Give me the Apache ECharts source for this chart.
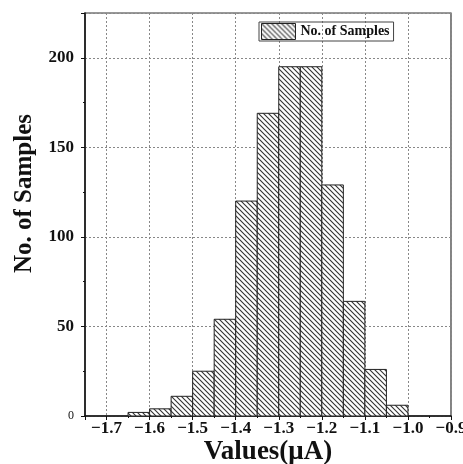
<!DOCTYPE html>
<html>
<head>
<meta charset="utf-8">
<script src="https://cdn.jsdelivr.net/npm/echarts@6/dist/echarts.min.js"></script>
<style>
html,body{margin:0;padding:0;background:#fff;}
#c{width:463px;height:464px;}
</style>
</head>
<body>
<div id="c"></div>
<script>
// ---- data ----
const binStarts = [-1.65, -1.60, -1.55, -1.50, -1.45, -1.40, -1.35, -1.30, -1.25, -1.20, -1.15, -1.10, -1.05];
const binWidth = 0.05;
const counts    = [2, 4, 11, 25, 54, 120, 169, 195, 195, 129, 64, 26, 6];
const seriesName = 'No. of Samples';
const xTitle = 'Values(μA)';
const yTitle = 'No. of Samples';

// hatch pattern
function makeHatch() {
  const s = 5;
  const cv = document.createElement('canvas');
  cv.width = s; cv.height = s;
  const ctx = cv.getContext('2d');
  ctx.fillStyle = '#ffffff';
  ctx.fillRect(0, 0, s, s);
  ctx.strokeStyle = '#333333';
  ctx.lineWidth = 1.1;
  ctx.beginPath();
  ctx.moveTo(-s, -s); ctx.lineTo(2 * s, 2 * s);
  ctx.moveTo(0, -s); ctx.lineTo(2 * s, s);
  ctx.moveTo(-s, 0); ctx.lineTo(s, 2 * s);
  ctx.stroke();
  return cv;
}
const hatch = { image: makeHatch(), repeat: 'repeat' };

const data = binStarts.map((b, i) => [b, b + binWidth, counts[i]]);

const font = '"Liberation Serif", "Times New Roman", serif';
const chart = echarts.init(document.getElementById('c'));
chart.setOption({
  animation: false,
  backgroundColor: '#fff',
  grid: { left: 85, right: 12, top: 13, bottom: 48, outerBoundsMode: 'none', containLabel: false,
    show: true, borderColor: '#333', borderWidth: 1.2, backgroundColor: 'transparent' },
  legend: {
    left: 259, top: 22,
    padding: [1, 4, 1, 2],
    borderColor: '#444', borderWidth: 1,
    itemWidth: 34, itemHeight: 16,
    icon: 'rect',
    textStyle: { fontFamily: font, fontWeight: 'bold', fontSize: 14, color: '#111' },
    data: [{ name: seriesName, itemStyle: { color: hatch, borderColor: '#222', borderWidth: 1 } }]
  },
  xAxis: {
    type: 'value', min: -1.75, max: -0.9, splitNumber: 8,
    name: xTitle, nameLocation: 'middle', nameGap: 23, nameMoveOverlap: false,
    nameTextStyle: { fontFamily: font, fontWeight: 'bold', fontSize: 27, color: '#111' },
    axisLine: { show: true, onZero: false, lineStyle: { color: '#111', width: 1.5 } },
    axisTick: { show: true, length: 4, lineStyle: { color: '#111', width: 1 } },
    minorTick: { show: true, splitNumber: 2, length: 2, lineStyle: { color: '#111' } },
    axisLabel: { fontFamily: font, fontWeight: 'bold', fontSize: 17, color: '#111', margin: 4,
      formatter: v => (v < 0 ? '\u2212' : '') + Math.abs(v).toFixed(1) },
    splitLine: { show: true, lineStyle: { color: '#888', type: [2, 2], width: 1 } }
  },
  yAxis: {
    type: 'value', min: 0, max: 225, interval: 50,
    name: yTitle, nameLocation: 'middle', nameGap: 48, nameRotate: 90, nameMoveOverlap: false,
    nameTextStyle: { fontFamily: font, fontWeight: 'bold', fontSize: 25, color: '#111', padding: [0, 0, 0, 42] },
    axisLine: { show: true, lineStyle: { color: '#111', width: 1.5 } },
    axisTick: { show: true, length: 4, lineStyle: { color: '#111', width: 1 } },
    minorTick: { show: true, splitNumber: 2, length: 2, lineStyle: { color: '#111' } },
    axisLabel: { fontFamily: font, fontWeight: 'bold', fontSize: 17, color: '#111', margin: 11, showMaxLabel: false,
      formatter: v => v === 0 ? '{s|0}' : String(v),
      rich: { s: { fontFamily: font, fontSize: 12, fontWeight: 'normal', color: '#111' } } },
    splitLine: { show: true, lineStyle: { color: '#888', type: [2, 2], width: 1 } }
  },
  series: [{
    name: seriesName,
    type: 'custom',
    itemStyle: { color: hatch, borderColor: '#222', borderWidth: 1 },
    encode: { x: [0, 1], y: 2 },
    data: data,
    renderItem: function (params, api) {
      const p0 = api.coord([api.value(0), api.value(2)]);
      const p1 = api.coord([api.value(1), 0]);
      return {
        type: 'rect',
        shape: { x: p0[0], y: p0[1], width: p1[0] - p0[0], height: p1[1] - p0[1] },
        style: { fill: hatch, stroke: '#222', lineWidth: 1 }
      };
    }
  }]
});
</script>
</body>
</html>
